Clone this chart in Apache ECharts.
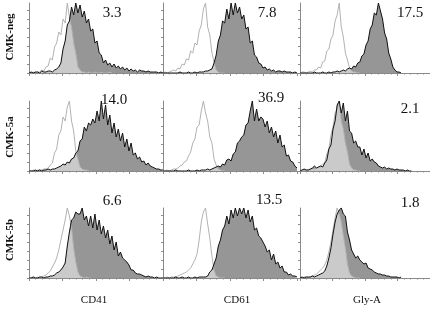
<!DOCTYPE html>
<html>
<head>
<meta charset="utf-8">
<script src="https://cdn.jsdelivr.net/npm/echarts@6/dist/echarts.min.js"></script>
<style>
  html, body { margin: 0; padding: 0; background: #fff; }
  #chart { width: 430px; height: 309px; }
</style>
</head>
<body>
<div id="chart"></div>
<script>
// row / column names and the percentages printed in each panel
const rowNames = ['CMK-neg', 'CMK-5a', 'CMK-5b'];
const colNames = ['CD41', 'CD61', 'Gly-A'];
const percents = [
  ['3.3', '7.8', '17.5'],
  ['14.0', '36.9', '2.1'],
  ['6.6', '13.5', '1.8']
];

// histogram counts per bin (64 bins over 4 decades), control and stained
const negCD41Ctrl = [0,0,1,0,1, 1,3,2,6,7, 15,13,26,30,41, 38,54,50,70,56, 46,30,20,6,3, 1,1,0,1,0, 0,1,0,0,1,0,0,0,1,0];
const negCD41Stain = [0,1,0,1,1, 0,2,1,1,2, 2,1,3,4,6, 10,24,32,48,52, 66,58,70,60,68, 56,62,50,54,42, 44,30,32,20,18, 10,13,8,10,6, 9,5,7,4,6, 3,5,2,4,2, 3,1,3,2,2, 1,2,1,1,1, 1,0,1,0];
const negCD61Ctrl = [0,1,0,1,2, 3,2,5,4,9, 8,14,13,22,20, 30,28,42,48,64, 70,46,38,20,11, 3,1,0,0,0];
const negCD61Stain = [0,0,0,0,0, 0,0,0,1,0, 0,0,1,0,0, 1,0,1,1,1, 2,2,3,4,10, 18,32,38,52,50, 64,54,70,58,70, 60,66,54,58,44, 46,30,32,18,16, 10,9,5,6,3, 4,2,3,1,2, 2,1,2,1,1, 1,0,1,0];
const negGlyCtrl = [0,1,1,0,1, 2,1,3,3,6, 5,11,12,22,24, 34,38,52,58,70, 46,36,20,13,5, 2,1,1,0,0];
const negGlyStain = [0,0,0,0,0, 0,0,1,0,0, 0,1,0,0,1, 0,1,1,2,1, 2,3,2,4,5, 4,7,6,10,11, 17,19,28,32,44, 48,60,58,70,62, 54,40,34,20,14, 6,3,1,1,0];

const a5CD41Ctrl = [0,0,1,0,1, 1,1,2,2,3, 6,8,18,22,36, 40,54,50,64,70, 50,40,20,12,4, 2,1,1,0,0];
const a5CD41Stain = [0,0,0,1,0, 1,0,1,1,2, 1,2,2,3,4, 5,7,6,9,8, 12,13,18,20,30, 32,44,40,48,46, 52,48,60,50,70, 52,66,46,56,38, 48,34,42,30,38, 24,32,20,28,16, 18,12,14,9,10, 6,8,5,4,3, 2,2,1,1];
const a5CD61Ctrl = [0,0,1,0,1, 2,2,3,5,6, 9,10,15,19,28, 32,44,46,60,70, 58,50,34,28,12, 6,2,1,0,1];
const a5CD61Stain = [0,0,0,0,0, 0,1,0,0,0, 0,0,1,0,0, 0,1,0,1,1, 1,2,1,2,3, 4,5,4,7,6, 11,12,10,17,19, 28,30,34,36,46, 48,60,70,50,62, 50,54,52,44,50, 38,44,34,40,28, 36,24,26,15,16, 10,9,5,3];
const a5GlyCtrl = [0,1,0,1,1, 1,2,2,3,4, 5,7,8,17,22, 36,44,58,62,68, 50,42,28,19,7, 3,1,1,0,0];
const a5GlyStain = [0,1,2,1,1, 2,3,5,3,4, 5,4,8,11,22, 26,42,50,66,70, 58,68,50,60,40, 38,28,30,24,24, 16,22,13,18,10, 12,9,8,5,4, 3,4,2,3,2, 2,1,2,1,1, 1,0,1,0,0];

const b5CD41Ctrl = [0,0,1,0,1, 0,1,2,3,5, 7,11,15,20,28, 38,48,58,70,62, 50,30,16,6,2, 1,0,1,0,0];
const b5CD41Stain = [0,0,1,0,0, 1,1,0,1,1, 2,2,3,5,6, 8,11,15,32,46, 58,60,66,64,64, 70,58,62,52,62, 50,64,48,58,44, 52,40,48,34,42, 28,36,22,26,20, 18,16,13,8,8, 5,4,4,3,2, 1,2,1,1,0, 1,0,0,0];
const b5CD61Ctrl = [0,0,1,0,1, 1,1,2,3,4, 5,6,8,10,14, 18,24,38,56,66, 70,54,40,22,8, 2,1,0,0,0];
const b5CD61Stain = [0,0,0,0,0, 0,1,0,0,1, 0,0,1,0,0, 1,0,1,1,1, 1,2,6,8,14, 20,32,38,48,52, 62,54,68,60,70, 62,70,64,70,60, 68,56,62,48,50, 42,40,36,32,26, 28,18,24,14,16, 10,12,6,6,3, 4,2,2,1];
const b5GlyCtrl = [0,0,1,1,0, 1,2,3,4,6, 8,10,13,18,26, 36,48,60,70,64, 56,42,30,14,5, 2,1,0,0,0];
const b5GlyStain = [0,1,0,1,1, 1,2,1,2,3, 4,5,7,12,20, 30,44,56,64,68, 70,64,62,46,38, 28,24,20,22,18, 16,14,15,10,9, 8,6,5,4,4, 3,3,2,2,1, 1,1,1,0,1];

const panels = [
  [[negCD41Ctrl, negCD41Stain], [negCD61Ctrl, negCD61Stain], [negGlyCtrl, negGlyStain]],
  [[a5CD41Ctrl, a5CD41Stain], [a5CD61Ctrl, a5CD61Stain], [a5GlyCtrl, a5GlyStain]],
  [[b5CD41Ctrl, b5CD41Stain], [b5CD61Ctrl, b5CD61Stain], [b5GlyCtrl, b5GlyStain]]
];

// layout
const lefts = [29, 163, 300];
const tops = [3, 101, 208];
const pctPos = [
  [[112, 13], [267, 13], [410, 13]],
  [[114, 100], [271, 98], [410, 109]],
  [[112, 201], [269, 200], [410, 203]]
];
const rowLabelY = [37, 137, 240];
const colLabelX = [94, 237, 367];

const AXIS = '#8a8a8a';
const grid = [], xAxis = [], yAxis = [], series = [], graphic = [];

const pts = arr => arr.map((v, i) => [i, v]);

panels.forEach((row, r) => {
  row.forEach(([ctrl, stain], c) => {
    const k = grid.length;
    grid.push({ left: lefts[c], top: tops[r], width: 134, height: 70 });
    xAxis.push({
      gridIndex: k, type: 'value', min: 0, max: 63, interval: 15.75,
      axisLine: { lineStyle: { color: AXIS, width: 1 } },
      axisTick: { show: true, length: 3, lineStyle: { color: AXIS } },
      minorTick: { show: true, splitNumber: 5, length: 1.5, lineStyle: { color: AXIS } },
      axisLabel: { show: false }, splitLine: { show: false }
    });
    yAxis.push({
      gridIndex: k, type: 'value', min: 0, max: 70,
      axisLine: { show: true, lineStyle: { color: AXIS, width: 1 } },
      axisTick: { show: true, length: 2, lineStyle: { color: AXIS }, customValues: [0, 9, 18, 27, 36, 45, 54, 63] },
      axisLabel: { show: false }, splitLine: { show: false }
    });
    // light grey where control and stained histograms overlap
    const overlap = ctrl.map((v, i) => [i, Math.min(v, stain[i] !== undefined ? stain[i] : 0)]);
    const base = { xAxisIndex: k, yAxisIndex: k, type: 'line', showSymbol: false, silent: true };
    series.push(Object.assign({}, base, {
      data: pts(stain), lineStyle: { width: 0 }, areaStyle: { color: '#969696', opacity: 1 }
    }));
    series.push(Object.assign({}, base, {
      data: overlap, lineStyle: { width: 0 }, areaStyle: { color: '#cacaca', opacity: 1 }
    }));
    series.push(Object.assign({}, base, {
      data: pts(ctrl), lineStyle: { width: 1, color: '#b2b2b2' }
    }));
    series.push(Object.assign({}, base, {
      data: pts(stain), lineStyle: { width: 1, color: '#111' }
    }));
    graphic.push({
      type: 'text', x: pctPos[r][c][0], y: pctPos[r][c][1],
      style: { text: percents[r][c], font: '15px "Liberation Serif"', fill: '#111', align: 'center', verticalAlign: 'middle' }
    });
  });
  graphic.push({
    type: 'text', x: 10, y: rowLabelY[r], rotation: Math.PI / 2,
    style: { text: rowNames[r], font: 'bold 11px "Liberation Serif"', fill: '#111', align: 'center', verticalAlign: 'middle' }
  });
});

colNames.forEach((name, c) => {
  graphic.push({
    type: 'text', x: colLabelX[c], y: 300,
    style: { text: name, font: '11px "Liberation Serif"', fill: '#111', align: 'center', verticalAlign: 'middle' }
  });
});

const chart = echarts.init(document.getElementById('chart'));
chart.setOption({
  animation: false,
  backgroundColor: '#fff',
  grid, xAxis, yAxis, series, graphic
});
</script>
</body>
</html>
